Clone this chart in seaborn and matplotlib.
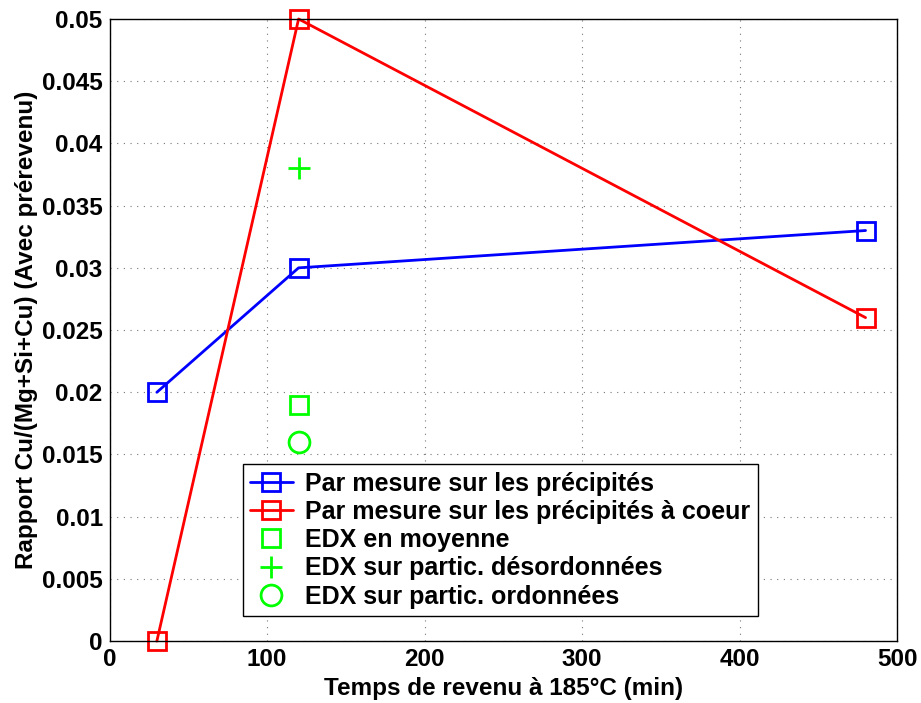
import numpy as np
import pandas as pd
import matplotlib
matplotlib.use("Agg")
import matplotlib.pyplot as plt
import seaborn as sns

# data
temps = [30, 120, 480]
cu_precip = [0.02, 0.03, 0.033]
cu_coeur = [0.0, 0.05, 0.026]
edx_t = [120]
edx_moyenne = [0.019]
edx_desord = [0.038]
edx_ordon = [0.016]

xticks = [0, 100, 200, 300, 400, 500]
yticks = [0, 0.005, 0.01, 0.015, 0.02, 0.025, 0.03, 0.035, 0.04, 0.045, 0.05]
ytick_labels = ["0", "0.005", "0.01", "0.015", "0.02", "0.025", "0.03",
                "0.035", "0.04", "0.045", "0.05"]

sns.set_style("white")
plt.rcParams['font.family'] = ['Liberation Sans', 'DejaVu Sans']
plt.rcParams['font.weight'] = 'bold'
plt.rcParams['text.color'] = 'black'
plt.rcParams['axes.labelcolor'] = 'black'
plt.rcParams['xtick.color'] = 'black'
plt.rcParams['ytick.color'] = 'black'

fig = plt.figure(figsize=(9.21, 7.03), dpi=100)
ax = fig.add_axes([0.119, 0.088, 0.855, 0.885])

line_kw = dict(marker='s', markersize=13, markerfacecolor='none',
               markeredgewidth=2, linewidth=2, clip_on=False)
sns.lineplot(x=temps, y=cu_precip, color='#0000ff', ax=ax,
             markeredgecolor='#0000ff', label='Par mesure sur les précipités', **line_kw)
sns.lineplot(x=temps, y=cu_coeur, color='#ff0000', ax=ax,
             markeredgecolor='#ff0000', label='Par mesure sur les précipités à coeur', **line_kw)

green = '#00ff00'
ax.plot(edx_t, edx_moyenne, linestyle='none', marker='s', markersize=13,
        markerfacecolor='none', markeredgecolor=green, markeredgewidth=2,
        label='EDX en moyenne')
ax.plot(edx_t, edx_desord, linestyle='none', marker='+', markersize=16,
        markeredgecolor=green, markeredgewidth=2,
        label='EDX sur partic. désordonnées')
ax.plot(edx_t, edx_ordon, linestyle='none', marker='o', markersize=15,
        markerfacecolor='none', markeredgecolor=green, markeredgewidth=2,
        label='EDX sur partic. ordonnées')

ax.set_xlim(0, 500)
ax.set_ylim(0, 0.05)
ax.set_xticks(xticks)
ax.set_yticks(yticks)
ax.set_yticklabels(ytick_labels)
ax.tick_params(direction='in', length=4, labelsize=17.5, colors='black', pad=5)
for lab in ax.get_xticklabels() + ax.get_yticklabels():
    lab.set_fontweight('bold')
ax.grid(True, linestyle=(0, (1, 5)), color='#777777', linewidth=0.8)
for sp in ax.spines.values():
    sp.set_color('black')
    sp.set_linewidth(1)

ax.set_xlabel('Temps de revenu à 185°C (min)', fontsize=17.5, fontweight='bold',
              color='black', labelpad=4)
ax.set_ylabel('Rapport Cu/(Mg+Si+Cu) (Avec prérevenu)', fontsize=17.5, fontweight='bold',
              color='black', labelpad=3)

leg = ax.legend(loc='lower left', bbox_to_anchor=(0.169, 0.04), borderaxespad=0,
                fontsize=18, frameon=True, fancybox=False, framealpha=1,
                handlelength=1.7, handletextpad=0.5, labelspacing=0.17, borderpad=0.3)
leg.get_frame().set_edgecolor('black')
leg.get_frame().set_linewidth(1)
for t in leg.get_texts():
    t.set_fontweight('bold')
    t.set_color('black')

fig.savefig('out.png', dpi=100)
